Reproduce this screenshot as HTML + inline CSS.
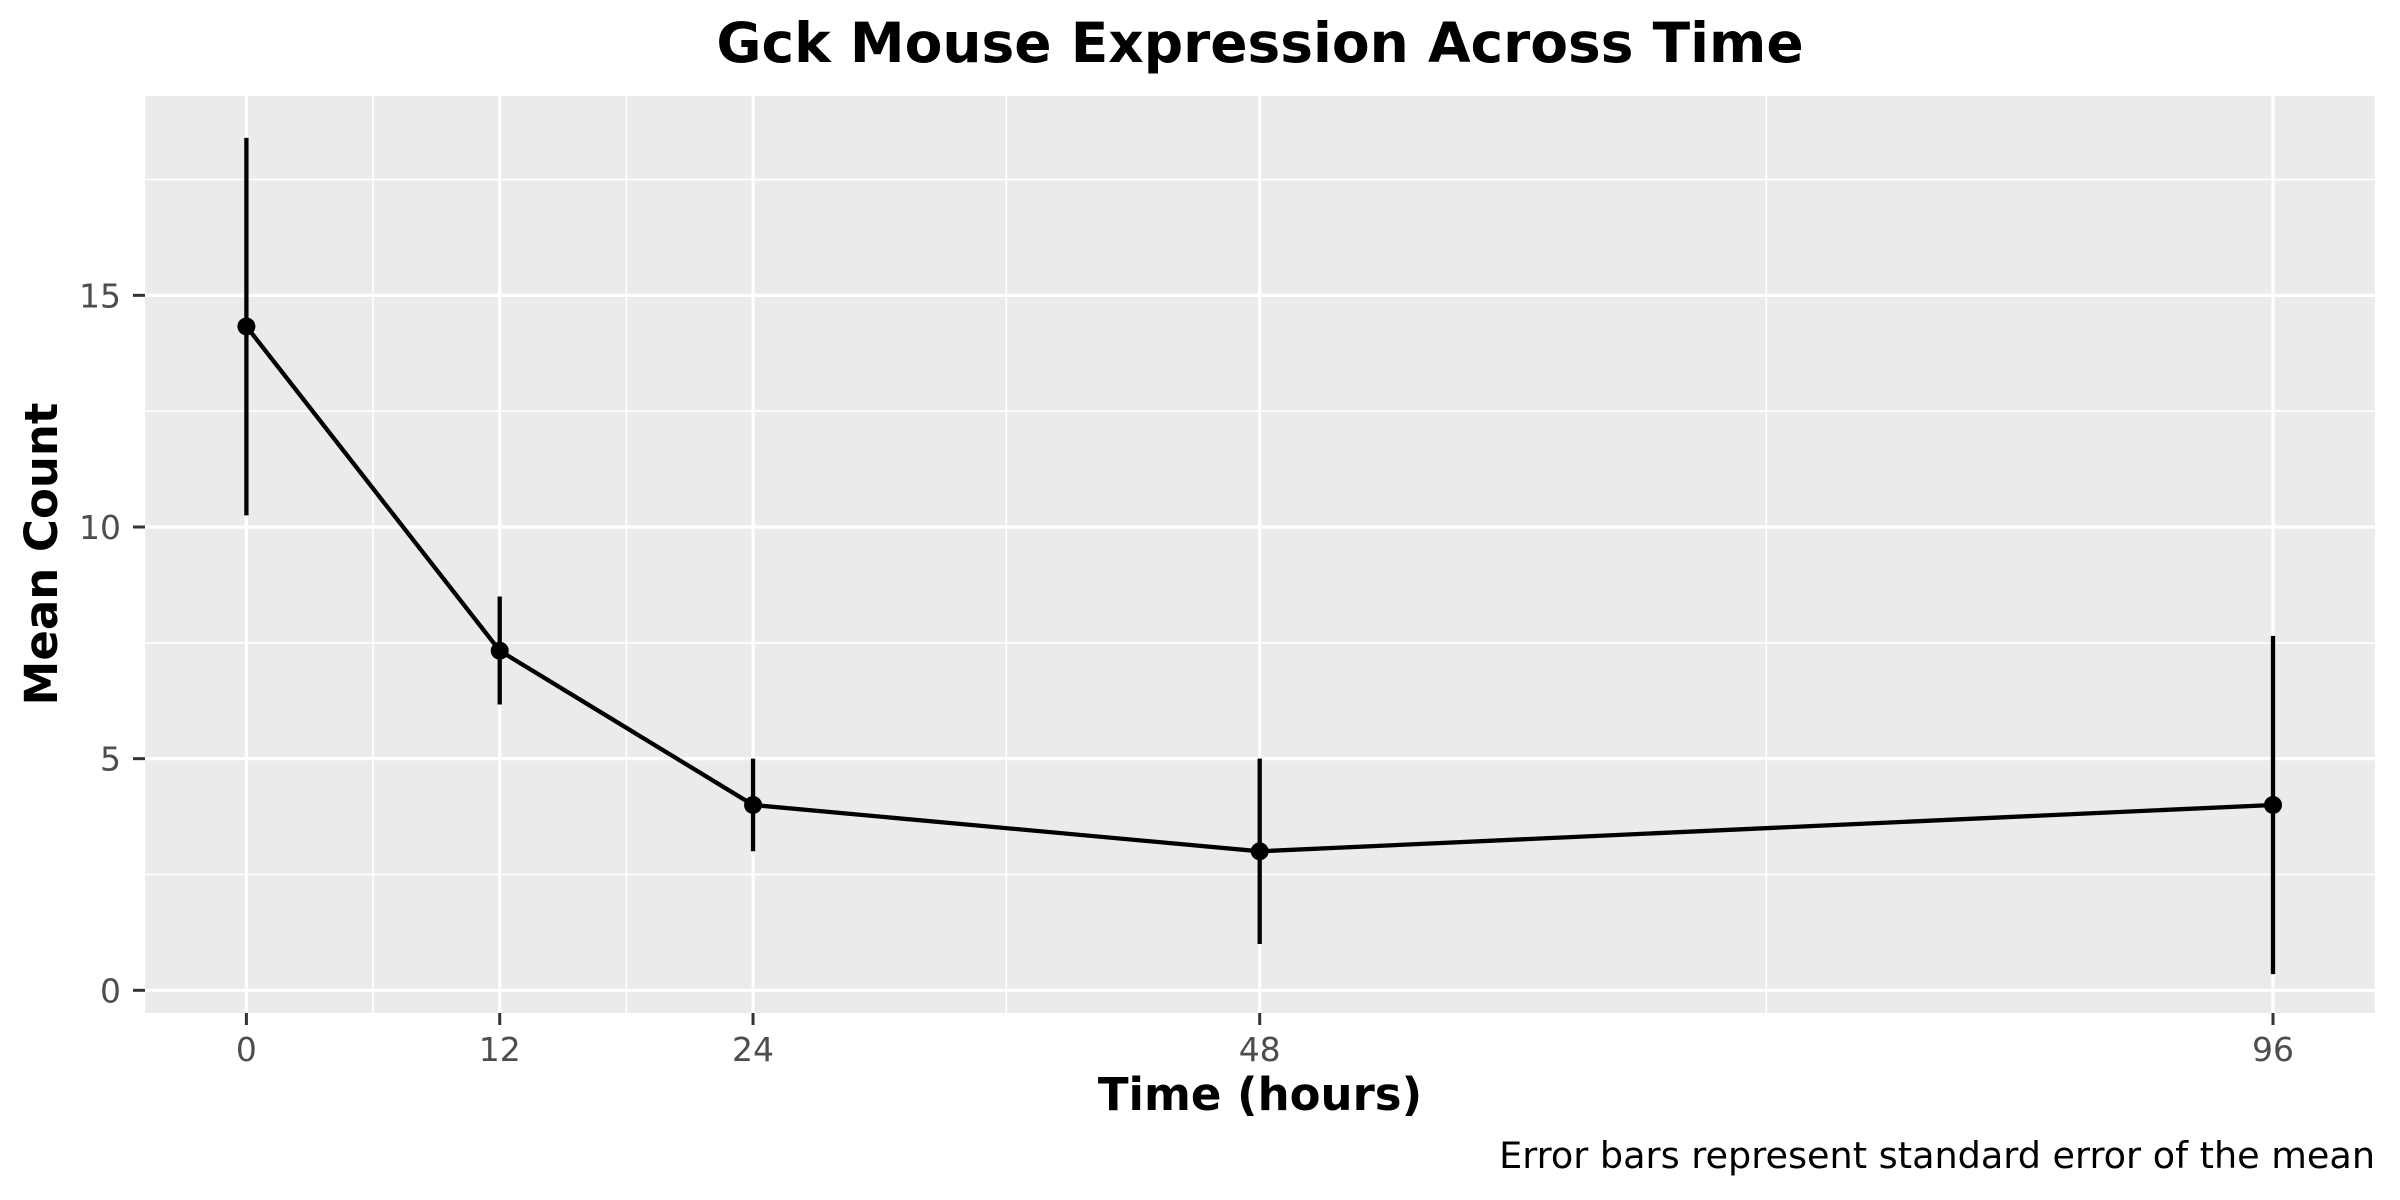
<!DOCTYPE html>
<html><head><meta charset="utf-8"><style>
html,body{margin:0;padding:0;background:#fff;}
svg{display:block;font-family:"DejaVu Sans","Liberation Sans",sans-serif;}
</style></head><body>
<svg id="chart" width="2400" height="1200" viewBox="0 0 2400 1200">
<text x="1260" y="62" text-anchor="middle" font-size="55" font-weight="bold" fill="#000">Gck Mouse Expression Across Time</text>
<rect x="145" y="96" width="2230" height="917" fill="#ebebeb"/>
<g id="grid"></g>
<g id="axes"></g>
<g id="marks"></g>
<text x="1260" y="1110" text-anchor="middle" font-size="45" font-weight="bold" fill="#000">Time (hours)</text>
<text transform="translate(57,554) rotate(-90)" text-anchor="middle" font-size="45" font-weight="bold" fill="#000">Mean Count</text>
<text x="2375" y="1168" text-anchor="end" font-size="36.6" fill="#000">Error bars represent standard error of the mean</text>
</svg>
<script>
const times = [0, 12, 24, 48, 96];
const means = [14.33, 7.33, 4, 3, 4];
const lower = [10.25, 6.17, 3, 1, 0.35];
const upper = [18.4, 8.5, 5, 5, 7.65];
const xTicks = [0, 12, 24, 48, 96];
const xMinor = [6, 18, 36, 72];
const yTicks = [0, 5, 10, 15];
const yMinor = [2.5, 7.5, 12.5, 17.5];

const NS = "http://www.w3.org/2000/svg";
const PL = 145, PR = 2375, PT = 96, PB = 1013;
function xs(v){ return 246.4 + (v - 0) * (2273 - 246.4) / 96; }
function ys(v){ return 990.3 - v * 46.33; }
function mk(tag, attrs, parent){
  const e = document.createElementNS(NS, tag);
  for (const k in attrs) e.setAttribute(k, attrs[k]);
  parent.appendChild(e); return e;
}
const grid = document.getElementById('grid');
const axes = document.getElementById('axes');
const marks = document.getElementById('marks');

yMinor.forEach(v => {
  const l = mk('line', {x1:PL, x2:PR, y1:ys(v), y2:ys(v), stroke:'#fff', 'stroke-width':1.6}, grid);
  
  
});
xMinor.forEach(v => {
  const l = mk('line', {x1:xs(v), x2:xs(v), y1:PT, y2:PB, stroke:'#fff', 'stroke-width':1.6}, grid);
  
  
});
yTicks.forEach(v => {
  const y = ys(v);
  const l = mk('line', {x1:PL, x2:PR, y1:y, y2:y, stroke:'#fff', 'stroke-width':3.2}, grid);
  
  
  const t = mk('line', {x1:PL-12, x2:PL, y1:y, y2:y, stroke:'#333', 'stroke-width':3}, axes);
  
  
  const tx = mk('text', {x:PL-24, y:y+12, 'text-anchor':'end', 'font-size':33, fill:'#4d4d4d'}, axes);
  tx.textContent = v;
  
  
});
xTicks.forEach(v => {
  const x = xs(v);
  const l = mk('line', {x1:x, x2:x, y1:PT, y2:PB, stroke:'#fff', 'stroke-width':3.2}, grid);
  
  
  const t = mk('line', {x1:x, x2:x, y1:PB, y2:PB+12, stroke:'#333', 'stroke-width':3}, axes);
  
  
  const tx = mk('text', {x:x, y:PB+48, 'text-anchor':'middle', 'font-size':33, fill:'#4d4d4d'}, axes);
  tx.textContent = v;
  
  
});
times.forEach((t, i) => {
  const e = mk('line', {x1:xs(t), x2:xs(t), y1:ys(lower[i]), y2:ys(upper[i]), stroke:'#000', 'stroke-width':4.3}, marks);
  
  
});
const pl = mk('polyline', {points: times.map((t,i)=>xs(t)+','+ys(means[i])).join(' '), fill:'none', stroke:'#000', 'stroke-width':4.3}, marks);


times.forEach((t, i) => {
  const c = mk('circle', {cx:xs(t), cy:ys(means[i]), r:9, fill:'#000'}, marks);
  
  
});
</script>
</body></html>
